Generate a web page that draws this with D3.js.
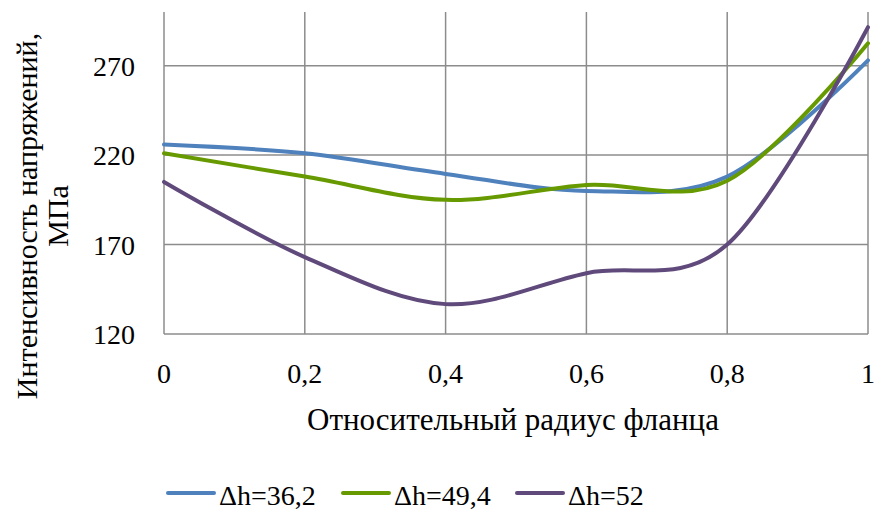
<!DOCTYPE html>
<html><head><meta charset="utf-8">
<script src="https://cdn.jsdelivr.net/npm/d3@7"></script>
<style>body{margin:0;background:#fff}svg{display:block}</style>
</head><body><svg id="c" width="877" height="512" font-family="'Liberation Serif', 'Times New Roman', Times, serif"></svg>
<script>
const xValues = [0, 0.2, 0.4, 0.6, 0.8, 1];
const xTickLabels = ["0", "0,2", "0,4", "0,6", "0,8", "1"];
const yTicks = [120, 170, 220, 270];
const seriesNames = ["Δh=36,2", "Δh=49,4", "Δh=52"];
const s1 = [226, 221, 209.5, 200, 208, 273];
const s2 = [221, 208, 195, 203.3, 205.7, 282.5];
const s3 = [205, 163, 136.7, 154, 170, 291.5];
const colors = ["#4f81bd", "#679a00", "#604a7b"];
const allSeries = [s1, s2, s3];

const svg = d3.select("#c");
const x = d3.scaleLinear().domain([0, 1]).range([164, 868]);
const y = d3.scaleLinear().domain([120, 300]).range([334, 12]);
const grid = "#8c8c8c";

svg.append("g").selectAll("line").data(xValues).join("line")
  .attr("x1", d => x(d)).attr("x2", d => x(d))
  .attr("y1", y(300)).attr("y2", y(120))
  .attr("stroke", grid).attr("stroke-width", 1.5);
svg.append("g").selectAll("line").data(yTicks).join("line")
  .attr("x1", x(0)).attr("x2", x(1))
  .attr("y1", d => y(d)).attr("y2", d => y(d))
  .attr("stroke", grid).attr("stroke-width", 1.5);

svg.append("g").selectAll("text").data(yTicks).join("text")
  .attr("x", 135).attr("y", d => y(d) + 10)
  .attr("text-anchor", "end").attr("font-size", 28).text(d => d);
svg.append("g").selectAll("text").data(xValues).join("text")
  .attr("x", d => x(d)).attr("y", 383)
  .attr("text-anchor", "middle").attr("font-size", 28)
  .text((d, i) => xTickLabels[i]);

svg.append("text").attr("x", 513).attr("y", 430).attr("text-anchor", "middle")
  .attr("font-size", 31).text("Относительный радиус фланца");
const yt = svg.append("text").attr("transform", "translate(37,216) rotate(-90)")
  .attr("text-anchor", "middle").attr("font-size", 30);
yt.append("tspan").attr("x", 0).attr("y", 0).text("Интенсивность напряжений,");
yt.append("tspan").attr("x", 0).attr("y", 31).text("МПа");

const line = d3.line().x((d, i) => x(xValues[i])).y(d => y(d)).curve(d3.curveCardinal.tension(0));
svg.append("g").selectAll("path").data(allSeries).join("path")
  .attr("d", d => line(d)).attr("fill", "none")
  .attr("stroke", (d, i) => colors[i]).attr("stroke-width", 4)
  .attr("stroke-linejoin", "round").attr("stroke-linecap", "round");

const legX = [168, 343, 517];
const lg = svg.append("g").selectAll("g").data(seriesNames).join("g")
  .attr("transform", (d, i) => `translate(${legX[i]},493)`);
lg.append("line").attr("x1", 0).attr("x2", 46).attr("y1", 0).attr("y2", 0)
  .attr("stroke", (d, i) => colors[i]).attr("stroke-width", 4).attr("stroke-linecap", "round");
lg.append("text").attr("x", 51).attr("y", 12).attr("font-size", 28).text(d => d);
</script></body></html>
